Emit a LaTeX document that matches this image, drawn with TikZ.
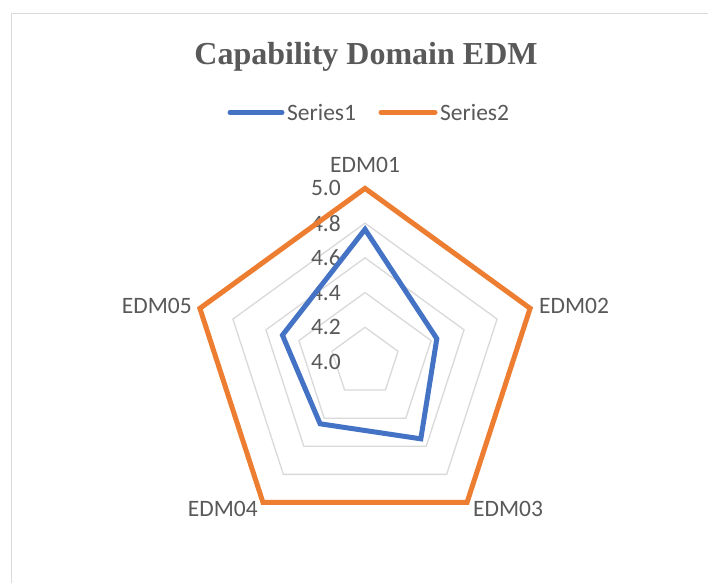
\documentclass[tikz,border=0pt]{standalone}
\usepackage{fontspec}
\setmainfont{Liberation Serif}
\newfontfamily\calibri{Carlito}
\definecolor{txtgray}{HTML}{595959}
\definecolor{gridgray}{HTML}{D9D9D9}
\definecolor{framegray}{HTML}{D9D9D9}
\definecolor{serA}{HTML}{4472C4}
\definecolor{serB}{HTML}{ED7D31}
\tikzset{
  lbl/.style={font=\calibri\fontsize{23.5}{28}\selectfont, text=txtgray, inner sep=0pt},
  gridring/.style={draw=gridgray, line width=1.3pt},
  seriesline/.style={line width=5pt, line join=miter},
  legkey/.style={line width=5pt, line cap=round}
}
\begin{document}
\begin{tikzpicture}[x=1pt, y=-1pt]
  \useasboundingbox (0,0) rectangle (708,583);
  \fill[white] (0,0) rectangle (708,583);
  % chart area frame
  \draw[framegray, line width=1.2pt] (708,13.5) -- (11.5,13.5) -- (11.5,583);

  % title
  \node[font=\fontsize{32}{38}\selectfont\bfseries, text=txtgray, anchor=base, inner sep=0pt]
    (title) at (366,64.3) {Capability Domain EDM};

  % legend
  \node[lbl, anchor=west] (leg1) at (287,112.5) {Series1};
  \node[lbl, anchor=west] (leg2) at (440,112.5) {Series2};
  \draw[serA, legkey] ([xshift=-57pt]leg1.west) -- ([xshift=-5pt]leg1.west);
  \draw[serB, legkey] ([xshift=-59pt]leg2.west) -- ([xshift=-5pt]leg2.west);

  % radar plot, centred on the origin of this scope
  \begin{scope}[shift={(365,362)}]
    \def\unitR{173.6}
    % grid rings 4.2 ... 5.0
    \foreach \k in {1,...,5}{
      \pgfmathsetmacro{\rr}{\k*\unitR/5}
      \draw[gridring] (-90:\rr) -- (-18:\rr) -- (54:\rr) -- (126:\rr) -- (198:\rr) -- cycle;
    }
    % axis values
    \foreach \k/\t in {0/4.0,1/4.2,2/4.4,3/4.6,4/4.8,5/5.0}{
      \node[lbl, anchor=east] (tick\k) at (-24,{-\k*\unitR/5}) {\t};
    }
    % Series2
    \draw[serB, seriesline] (-90:\unitR) -- (-18:\unitR) -- (54:\unitR) -- (126:\unitR) -- (198:\unitR) -- cycle;
    % Series1
    \draw[serA, seriesline]
      (-90:{0.764*\unitR}) -- (-18:{0.435*\unitR}) -- (54:{0.547*\unitR})
      -- (126:{0.440*\unitR}) -- (198:{0.500*\unitR}) -- cycle;
  \end{scope}

  % category labels
  \node[lbl] (c1) at (365,165) {EDM01};
  \node[lbl, anchor=west] (c2) at (539,306) {EDM02};
  \node[lbl, anchor=west] (c3) at (473,508.5) {EDM03};
  \node[lbl, anchor=east] (c4) at (258,508.5) {EDM04};
  \node[lbl, anchor=east] (c5) at (192,306) {EDM05};
\end{tikzpicture}
\end{document}
